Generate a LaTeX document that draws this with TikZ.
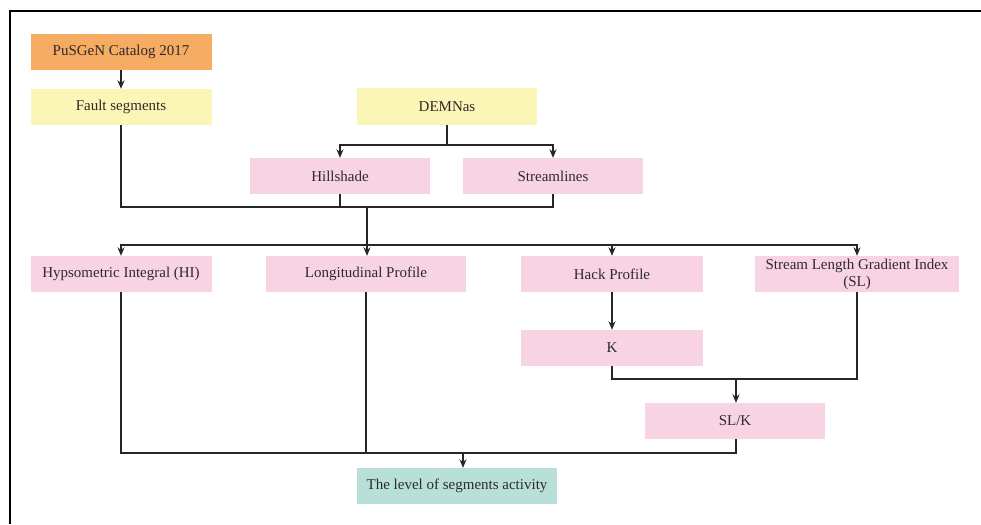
\documentclass[tikz,border=0pt]{standalone}
\usepackage{fontspec}
\setmainfont{Liberation Serif}
\usetikzlibrary{arrows.meta}
\definecolor{orangebox}{HTML}{F5AC62}
\definecolor{yellowbox}{HTML}{FBF6B6}
\definecolor{pinkbox}{HTML}{F8D3E4}
\definecolor{tealbox}{HTML}{B8E0D9}
\definecolor{txt}{HTML}{2E2A2B}
\tikzset{
  box/.style={minimum height=36pt, inner sep=0pt, text=txt, font=\fontsize{15}{16}\selectfont, align=center},
  obox/.style={box, fill=orangebox},
  ybox/.style={box, fill=yellowbox},
  pbox/.style={box, fill=pinkbox},
  tbox/.style={box, fill=tealbox},
  conn/.style={line width=1.3pt, draw=black!85},
  arr/.style={conn, -{Stealth[length=8.5pt,width=7pt]}},
}
\begin{document}
\begin{tikzpicture}[x=1pt,y=-1pt]
\useasboundingbox (0,0) rectangle (981,524);
\fill[white] (0,0) rectangle (981,524);
\draw[line width=1.5pt] (10,524) -- (10,11) -- (981,11);
% nodes
\node[obox, minimum width=181pt] (pus) at (121,52) {PuSGeN Catalog 2017};
\node[ybox, minimum width=181pt] (fault) at (121,107) {Fault segments};
\node[ybox, minimum width=180pt] (dem) at (447,106.5) {DEMNas};
\node[pbox, minimum width=180pt] (hill) at (340,176) {Hillshade};
\node[pbox, minimum width=180pt] (stream) at (553,176) {Streamlines};
\node[pbox, minimum width=181pt] (hi) at (121,274) {Hypsometric Integral (HI)};
\node[pbox, minimum width=200pt] (lp) at (366,274) {Longitudinal Profile};
\node[pbox, minimum width=182pt] (hack) at (612,274) {Hack Profile};
\node[pbox, minimum width=204pt] (sl) at (857,274) {Stream Length Gradient Index\\[1pt](SL)};
\node[pbox, minimum width=182pt] (k) at (612,348) {K};
\node[pbox, minimum width=180pt] (slk) at (735,421) {SL/K};
\node[tbox, minimum width=200pt] (lvl) at (457,486) {The level of segments activity};
% junction coordinates
\coordinate (j1) at (447,145);
\coordinate (j2) at (367,207);
\coordinate (j3) at (367,245);
\coordinate (j4) at (736,379);
\coordinate (j5) at (463,453);
% connectors
\draw[arr] (pus) -- (fault);
\draw[conn] (dem.south) -- (j1);
\draw[arr] (j1) -| (hill.north);
\draw[arr] (j1) -| (stream.north);
\draw[conn] (fault.south) |- (j2);
\draw[conn] (hill.south) |- (j2);
\draw[conn] (stream.south) |- (j2);
\draw[conn] (j2) -- (j3);
\draw[arr] (j3) -| (hi.north);
\draw[arr] (j3) -- (j3 |- lp.north);
\draw[arr] (j3) -| (hack.north);
\draw[arr] (j3) -| (sl.north);
\draw[arr] (hack) -- (k);
\draw[conn] (k.south) |- (j4);
\draw[conn] (sl.south) |- (j4);
\draw[arr] (j4) -- (j4 |- slk.north);
\draw[conn] (hi.south) |- (j5);
\draw[conn] (lp.south) |- (j5);
\draw[conn] (j4 |- slk.south) |- (j5);
\draw[arr] (j5) -- (j5 |- lvl.north);
\end{tikzpicture}
\end{document}
